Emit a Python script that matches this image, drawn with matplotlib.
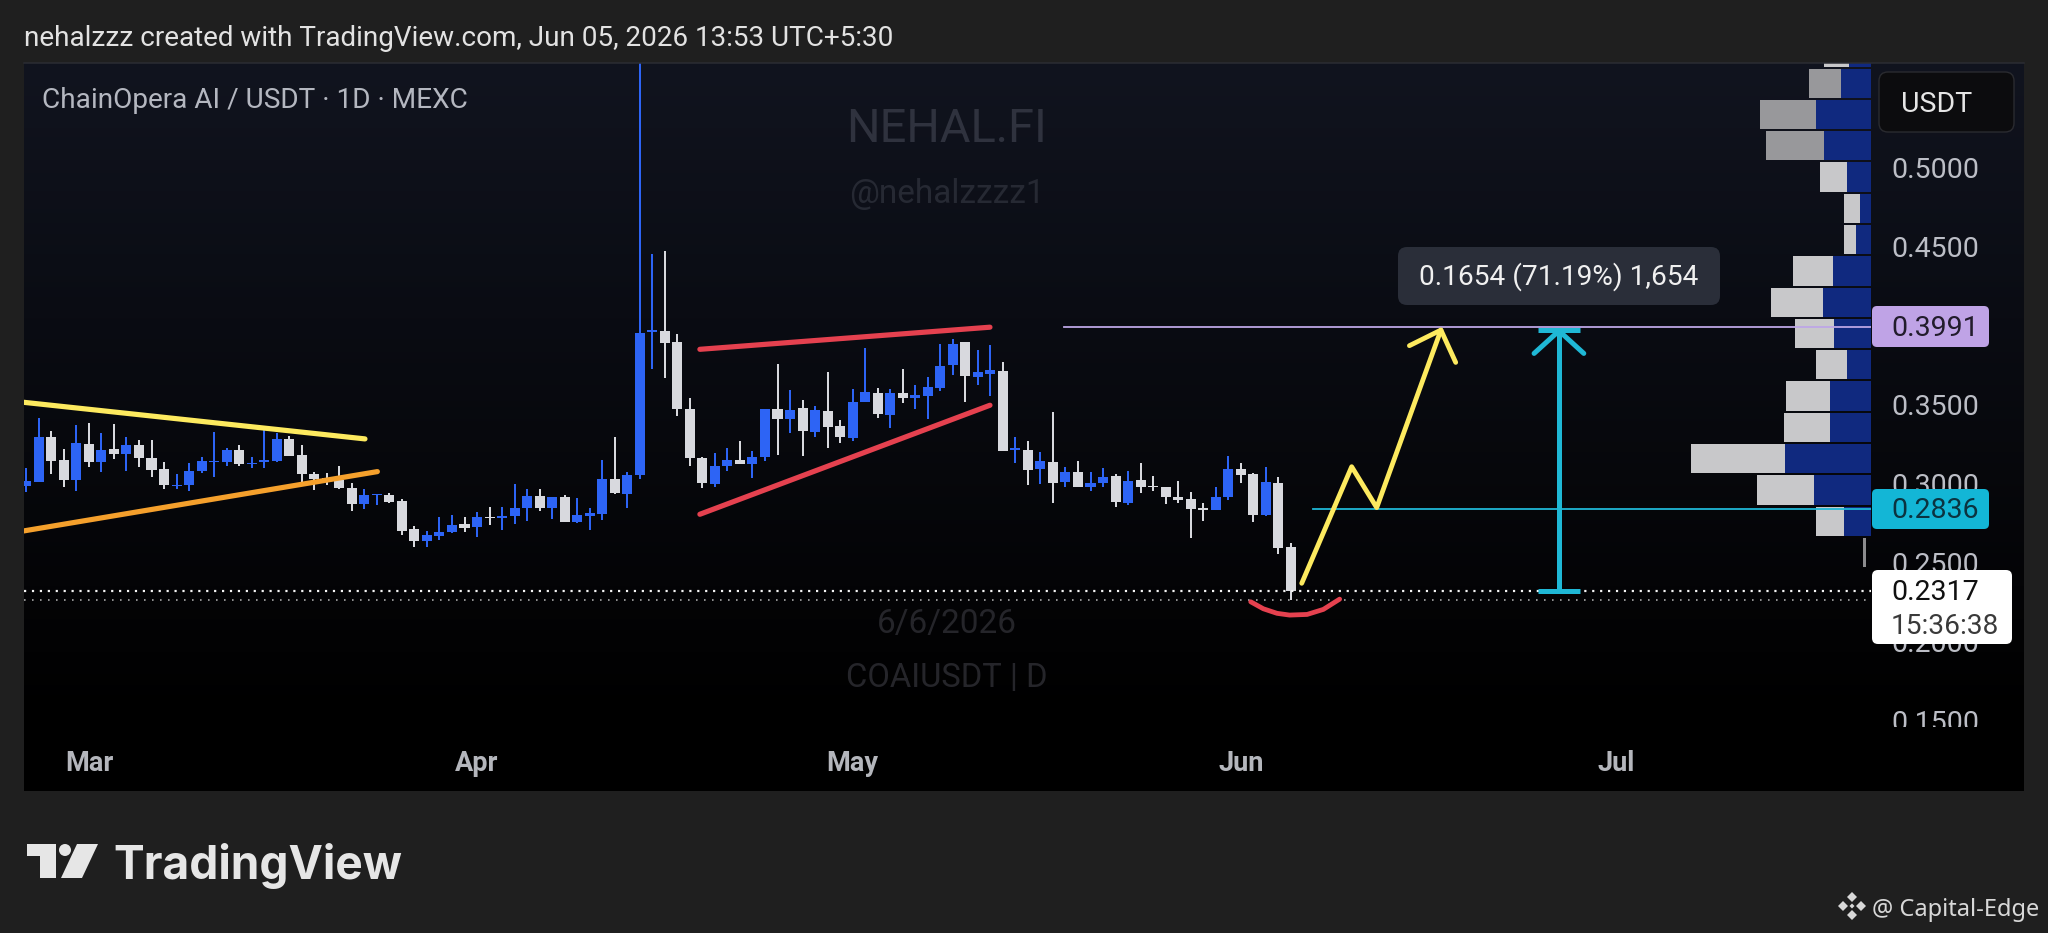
import numpy as np
import matplotlib
matplotlib.use("Agg")
import matplotlib.pyplot as plt
from matplotlib.colors import LinearSegmentedColormap
from matplotlib.patches import FancyBboxPatch, Polygon, Circle
from matplotlib.transforms import Bbox

# daily candles, index 0 = first candle on the left
opens = [.2983, .3010, .3291, .3148, .3023, .3249, .3133, .3215, .3183, .3245,
         .3160, .3089, .2983, .2989, .3080, .3133, .3135, .3211, .3122, .3135,
         .3141, .3283, .3177, .3059, .3034, .3021, .2970, .2867, .2926, .2928,
         .2890, .2709, .2637, .2666, .2689, .2742, .2721, .2788, .2778, .2792,
         .2845, .2919, .2845, .2911, .2755, .2792, .2803, .3029, .2930, .3052,
         .3960, .3964, .3894, .3468, .3162, .2993, .3110, .3148, .3123, .3165,
         .3471, .3407, .3475, .3325, .3456, .3363, .3287, .3517, .3574, .3433,
         .3570, .3542, .3555, .3604, .3747, .3895, .3675, .3692, .3711, .3209,
         .3211, .3090, .3137, .3008, .3071, .2974, .3002, .3046, .2875, .3018,
         .2983, .2974, .2915, .2902, .2843, .2833, .2911, .3088, .3059, .2797,
         .3004, .2599]
closes = [.3013, .3291, .3141, .3023, .3253, .3133, .3211, .3186, .3240, .3162,
          .3086, .2989, .2991, .3080, .3139, .3139, .3211, .3122, .3131, .3145,
          .3281, .3175, .3061, .3027, .3025, .2972, .2867, .2928, .2934, .2884,
          .2700, .2637, .2673, .2693, .2736, .2719, .2784, .2778, .2795, .2841,
          .2919, .2845, .2915, .2757, .2797, .2809, .3025, .2936, .3055, .3953,
          .3970, .3890, .3468, .3158, .3000, .3109, .3148, .3120, .3165, .3469,
          .3407, .3464, .3331, .3464, .3357, .3293, .3515, .3576, .3437, .3570,
          .3542, .3559, .3608, .3741, .3882, .3679, .3705, .3718, .3205, .3222,
          .3087, .3141, .3000, .3071, .2976, .3004, .3042, .2879, .3016, .2976,
          .2974, .2913, .2896, .2837, .2833, .2915, .3088, .3052, .2799, .3006,
          .2592, .2317]
highs = [.3095, .3411, .3333, .3215, .3369, .3380, .3321, .3375, .3295, .3274,
         .3274, .3133, .3057, .3127, .3165, .3323, .3221, .3240, .3169, .3363,
         .3316, .3302, .3245, .3070, .3067, .3110, .3000, .2962, .2934, .2941,
         .2903, .2730, .2700, .2784, .2799, .2788, .2816, .2847, .2852, .2995,
         .2963, .2963, .2915, .2925, .2904, .2841, .3147, .3291, .3069, .6000,
         .4451, .4470, .3943, .3542, .3169, .3190, .3222, .3270, .3207, .3469,
         .3753, .3591, .3528, .3490, .3703, .3401, .3599, .3855, .3601, .3599,
         .3724, .3620, .3675, .3882, .3914, .3895, .3844, .3874, .3770, .3291,
         .3270, .3198, .3453, .3101, .3143, .3069, .3094, .3056, .3080, .3126,
         .3046, .2976, .3016, .2945, .2873, .2974, .3172, .3126, .3067, .3105,
         .3042, .2620]
lows = [.2947, .3008, .3059, .2979, .2954, .3101, .3070, .3152, .3080, .3105,
        .3038, .2962, .2966, .2954, .3063, .3038, .3110, .3110, .3095, .3095,
        .3137, .3173, .3006, .2958, .2987, .2962, .2823, .2835, .2865, .2873,
        .2675, .2595, .2599, .2641, .2687, .2689, .2657, .2733, .2704, .2742,
        .2759, .2822, .2771, .2755, .2746, .2702, .2767, .2932, .2846, .3025,
        .3721, .3664, .3428, .3112, .2968, .2979, .3078, .3120, .3036, .3144,
        .3180, .3317, .3173, .3291, .3226, .3258, .3270, .3517, .3416, .3348,
        .3511, .3471, .3405, .3587, .3686, .3517, .3623, .3553, .3205, .3127,
        .2990, .2995, .2873, .2974, .2976, .2949, .2974, .2852, .2864, .2936,
        .2949, .2869, .2873, .2655, .2761, .2831, .2894, .2999, .2757, .2795,
        .2552, .2261]

# visible range volume rows (price centre, buy and sell width)
vp_prices = [.5730, .5532, .5334, .5136, .4938, .4740, .4542, .4344, .4146,
             .3948, .3750, .3552, .3354, .3156, .2958, .2760, .2562]
vp_buy = [66, 89, 164, 140, 72, 34, 44, 115, 144, 110, 72, 124, 124, 259, 170, 80, 14]
vp_sell = [76, 98, 168, 174, 82, 48, 38, 120, 157, 119, 94, 130, 136, 282, 173, 86, 11]

price_ticks = [0.15, 0.20, 0.25, 0.30, 0.35, 0.40, 0.45, 0.50]
month_pos = [5, 36, 66, 97, 127]
month_labels = ["Mar", "Apr", "May", "Jun", "Jul"]

# drawings on the chart: (candle index, price)
yellow_line_x, yellow_line_y = [-0.25, 27.05], [.3513, .3281]
orange_line_x, orange_line_y = [-0.25, 28.04], [.2698, .3074]
red_top_x, red_top_y = [53.8, 76.97], [.3848, .3988]
red_bottom_x, red_bottom_y = [53.8, 76.97], [.2804, .3494]
smile_x = [97.8, 98.8, 99.9, 100.9, 102.3, 103.6, 104.9]
smile_y = [.2250, .2206, .2177, .2166, .2170, .2202, .2267]
path_x = [101.87, 105.86, 107.86, 112.99]
path_y = [.2367, .3105, .2846, .3970]
head_x = [110.47, 112.99, 114.17]
head_y = [.3871, .3970, .3765]
ruler_x = 122.42
ruler_low, ruler_high = 0.2317, 0.3971
ruler_cap_x = [120.77, 124.1]
ruler_head_x = [120.43, 122.42, 124.4]
ruler_head_y = [.3822, .3965, .3822]

target_price = 0.3991
target_start = 82.9
entry_price = 0.2836
entry_start = 102.8
last_price = 0.2317
low_price = 0.2259

PAGE = "#1f1f1f"
BLUE = "#2d64f5"
WHITE = "#d8d9de"
YELLOW = "#fdea5f"
ORANGE = "#f5a02c"
RED = "#e5414f"
TEAL = "#1fb8d6"
LAVENDER = "#bda6e6"
AXIS_TEXT = "#bcbec6"
FONT = "Roboto"

W, H = 2048, 933
PX = 72 / 100  # points per pixel at dpi 100
plt.rcParams["font.family"] = [FONT, "DejaVu Sans"]

fig = plt.figure(figsize=(W / 100, H / 100), dpi=100, facecolor=PAGE)


def pane(left, top, right, bottom):
    return [left / W, (H - bottom) / H, (right - left) / W, (bottom - top) / H]


# panel background, fades to black
bg = fig.add_axes(pane(24, 63, 2024, 791), zorder=0)
cmap = LinearSegmentedColormap.from_list(
    "panel", [(0, "#11141f"), (0.35, "#0a0c13"), (0.72, "#040406"), (0.9, "#000000"), (1, "#000000")])
bg.imshow(np.linspace(0, 1, 256).reshape(-1, 1), aspect="auto", cmap=cmap, vmin=0, vmax=1)
bg.axis("off")

# price pane
ax = fig.add_axes(pane(24, 63, 1871, 727), zorder=2)
ax.patch.set_visible(False)
ax.set_xlim(-0.184, 147.34)
ax.set_ylim(0.14576, 0.56601)
for s in ax.spines.values():
    s.set_visible(False)

# volume profile sits behind the drawings
vp = ax.twiny()
vp.set_zorder(1)
vp.set_xlim(1847 * 3, 0)
vp.axis("off")
ax.set_zorder(2)
buy_colors = ["#10297f"] * (len(vp_buy) - 1) + [(0, 0, 0, 0)]
sell_colors = ["#c8c8ca"] + ["#98989b"] * 3 + ["#c8c8ca"] * 12 + ["#8c8c8e"]
vp.barh(vp_prices, vp_buy, height=0.01856, color=buy_colors, linewidth=0)
vp.barh(vp_prices, vp_sell, left=vp_buy, height=0.01856, color=sell_colors, linewidth=0)
# the top row is a thin sliver, the rest is cut off by the pane
vp.set_ylim(ax.get_ylim())

# candles
idx = np.arange(len(opens))
o, c = np.array(opens), np.array(closes)
cols = [BLUE if up else WHITE for up in c > o]
ax.vlines(idx, lows, highs, colors=cols, linewidth=2 * PX, zorder=2)
ax.bar(idx, np.abs(c - o), bottom=np.minimum(o, c), width=0.8, color=cols, linewidth=0, zorder=3)

# last price dots
ax.plot(ax.get_xlim(), [last_price] * 2, color="#f4f4f4", lw=2.2 * PX, ls=(0, (1, 2.6)), zorder=4)
ax.plot(ax.get_xlim(), [low_price] * 2, color="#b0b0b0", lw=1.6 * PX, ls=(0, (1, 4)), zorder=4)

# trend lines
line_kw = dict(solid_capstyle="round", solid_joinstyle="round", zorder=5)
ax.plot(yellow_line_x, yellow_line_y, color=YELLOW, lw=5.2 * PX, **line_kw)
ax.plot(orange_line_x, orange_line_y, color=ORANGE, lw=5.2 * PX, **line_kw)
ax.plot(red_top_x, red_top_y, color=RED, lw=5.2 * PX, **line_kw)
ax.plot(red_bottom_x, red_bottom_y, color=RED, lw=5.2 * PX, **line_kw)
ax.plot(smile_x, smile_y, color=RED, lw=4.8 * PX, **line_kw)

# levels
ax.plot([target_start, ax.get_xlim()[1]], [target_price] * 2, color=LAVENDER, lw=1.8 * PX, zorder=5)
ax.plot([entry_start, ax.get_xlim()[1]], [entry_price] * 2, color=TEAL, lw=1.8 * PX, zorder=5)

# projected path
ax.plot(path_x, path_y, color=YELLOW, lw=4.8 * PX, **line_kw)
ax.plot(head_x, head_y, color=YELLOW, lw=4.8 * PX, **line_kw)

# ruler
ax.plot([ruler_x, ruler_x], [ruler_low, ruler_high], color=TEAL, lw=5 * PX, solid_capstyle="butt", zorder=6)
ax.plot(ruler_cap_x, [ruler_high] * 2, color=TEAL, lw=5 * PX, solid_capstyle="butt", zorder=6)
ax.plot(ruler_cap_x, [ruler_low] * 2, color=TEAL, lw=5 * PX, solid_capstyle="butt", zorder=6)
ax.plot(ruler_head_x, ruler_head_y, color=TEAL, lw=5 * PX, **line_kw)

# axes text
ax.yaxis.tick_right()
ax.set_yticks(price_ticks)
ax.set_yticklabels(["%.4f" % p for p in price_ticks])
ax.set_xticks(month_pos)
ax.set_xticklabels(month_labels, fontweight="bold")
ax.tick_params(axis="y", length=0, pad=20 * PX, labelsize=20.5, labelcolor=AXIS_TEXT)
ax.tick_params(axis="x", length=0, pad=23 * PX, labelsize=19.5, labelcolor="#b4b6bc")
for lab in ax.get_yticklabels():
    # bottom label is cut by the time scale
    lab.set_clip_box(Bbox([[1871, H - 727], [2024, H - 63]]))
    lab.set_clip_on(True)

# page furniture, in pixels
ov = fig.add_axes([0, 0, 1, 1], zorder=3)
ov.set_xlim(0, W)
ov.set_ylim(H, 0)
ov.axis("off")


def box(x0, y0, x1, y1, face, edge="none", r=7):
    ov.add_patch(FancyBboxPatch((x0, y0), x1 - x0, y1 - y0, boxstyle="round,pad=0,rounding_size=%d" % r,
                                facecolor=face, edgecolor=edge, linewidth=1))


ov.plot([24, 2024], [62.5, 62.5], color="#2b2d33", lw=1.5 * PX)

ov.text(24, 38, "nehalzzz created with TradingView.com, Jun 05, 2026 13:53 UTC+5:30",
        color="#e2e2e2", fontsize=20.1, va="center")
ov.text(42, 101, "ChainOpera AI / USDT · 1D · MEXC", color="#b4b7c0", fontsize=20.2, va="center")

ov.text(947, 129, "NEHAL.FI", color="#2f323e", fontsize=33.8, ha="center", va="center")
ov.text(947, 194, "@nehalzzzz1", color="#262933", fontsize=24, ha="center", va="center")
ov.text(947, 624, "6/6/2026", color="#25252a", fontsize=24, ha="center", va="center")
ov.text(947, 678, "COAIUSDT | D", color="#25252a", fontsize=23.6, ha="center", va="center")

# measure label
box(1398, 247, 1720, 305, "#2a2e39", r=9)
ov.text(1559, 277, "0.1654 (71.19%) 1,654", color="#f0f0f0", fontsize=20.2, ha="center", va="center")

# price scale labels
box(1879, 72, 2014, 132, "#0c0c0e", edge="#2a2b30", r=9)
ov.text(1901, 105, "USDT", color="#e6e6e6", fontsize=20.5, va="center")
box(1872, 306, 1989, 347, "#bfa3e6", r=5)
ov.text(1891, 328, "0.3991", color="#221c2c", fontsize=20.5, va="center")
box(1872, 489, 1989, 529, "#13b6d6", r=5)
ov.text(1891, 511, "0.2836", color="#0b3340", fontsize=20.5, va="center")
box(1872, 570, 2012, 644, "#ffffff", r=6)
ov.text(1891, 593, "0.2317", color="#101010", fontsize=20.5, va="center")
ov.text(1891, 626, "15:36:38", color="#3a3a3a", fontsize=20.2, va="center")

# TradingView mark
LOGO = "#e6e6e6"
ov.add_patch(Polygon([(27, 844), (56, 844), (56, 878), (40, 878), (40, 856), (27, 856)], facecolor=LOGO, lw=0))
ov.add_patch(Circle((65, 850), 6, facecolor=LOGO, lw=0))
ov.add_patch(Polygon([(77, 844), (98, 844), (82, 878), (61, 878)], facecolor=LOGO, lw=0))
ov.text(113, 866, "TradingView", color=LOGO, fontsize=33.2, fontweight="bold", family="Inter", va="center")

# Capital-Edge stamp
STAMP = "#d8d8d8"
for dx, dy, r in [(0, -9, 5), (-9, 0, 5), (9, 0, 5), (0, 9, 5), (0, 0, 2.5)]:
    ov.add_patch(Polygon([(1852 + dx, 906 + dy - r), (1852 + dx + r, 906 + dy),
                          (1852 + dx, 906 + dy + r), (1852 + dx - r, 906 + dy)], facecolor=STAMP, lw=0))
ov.text(1872, 910, "@ Capital-Edge", color=STAMP, fontsize=17, family="Noto Sans", va="center")

fig.savefig("out.png", dpi=100, facecolor=PAGE)
plt.close(fig)
